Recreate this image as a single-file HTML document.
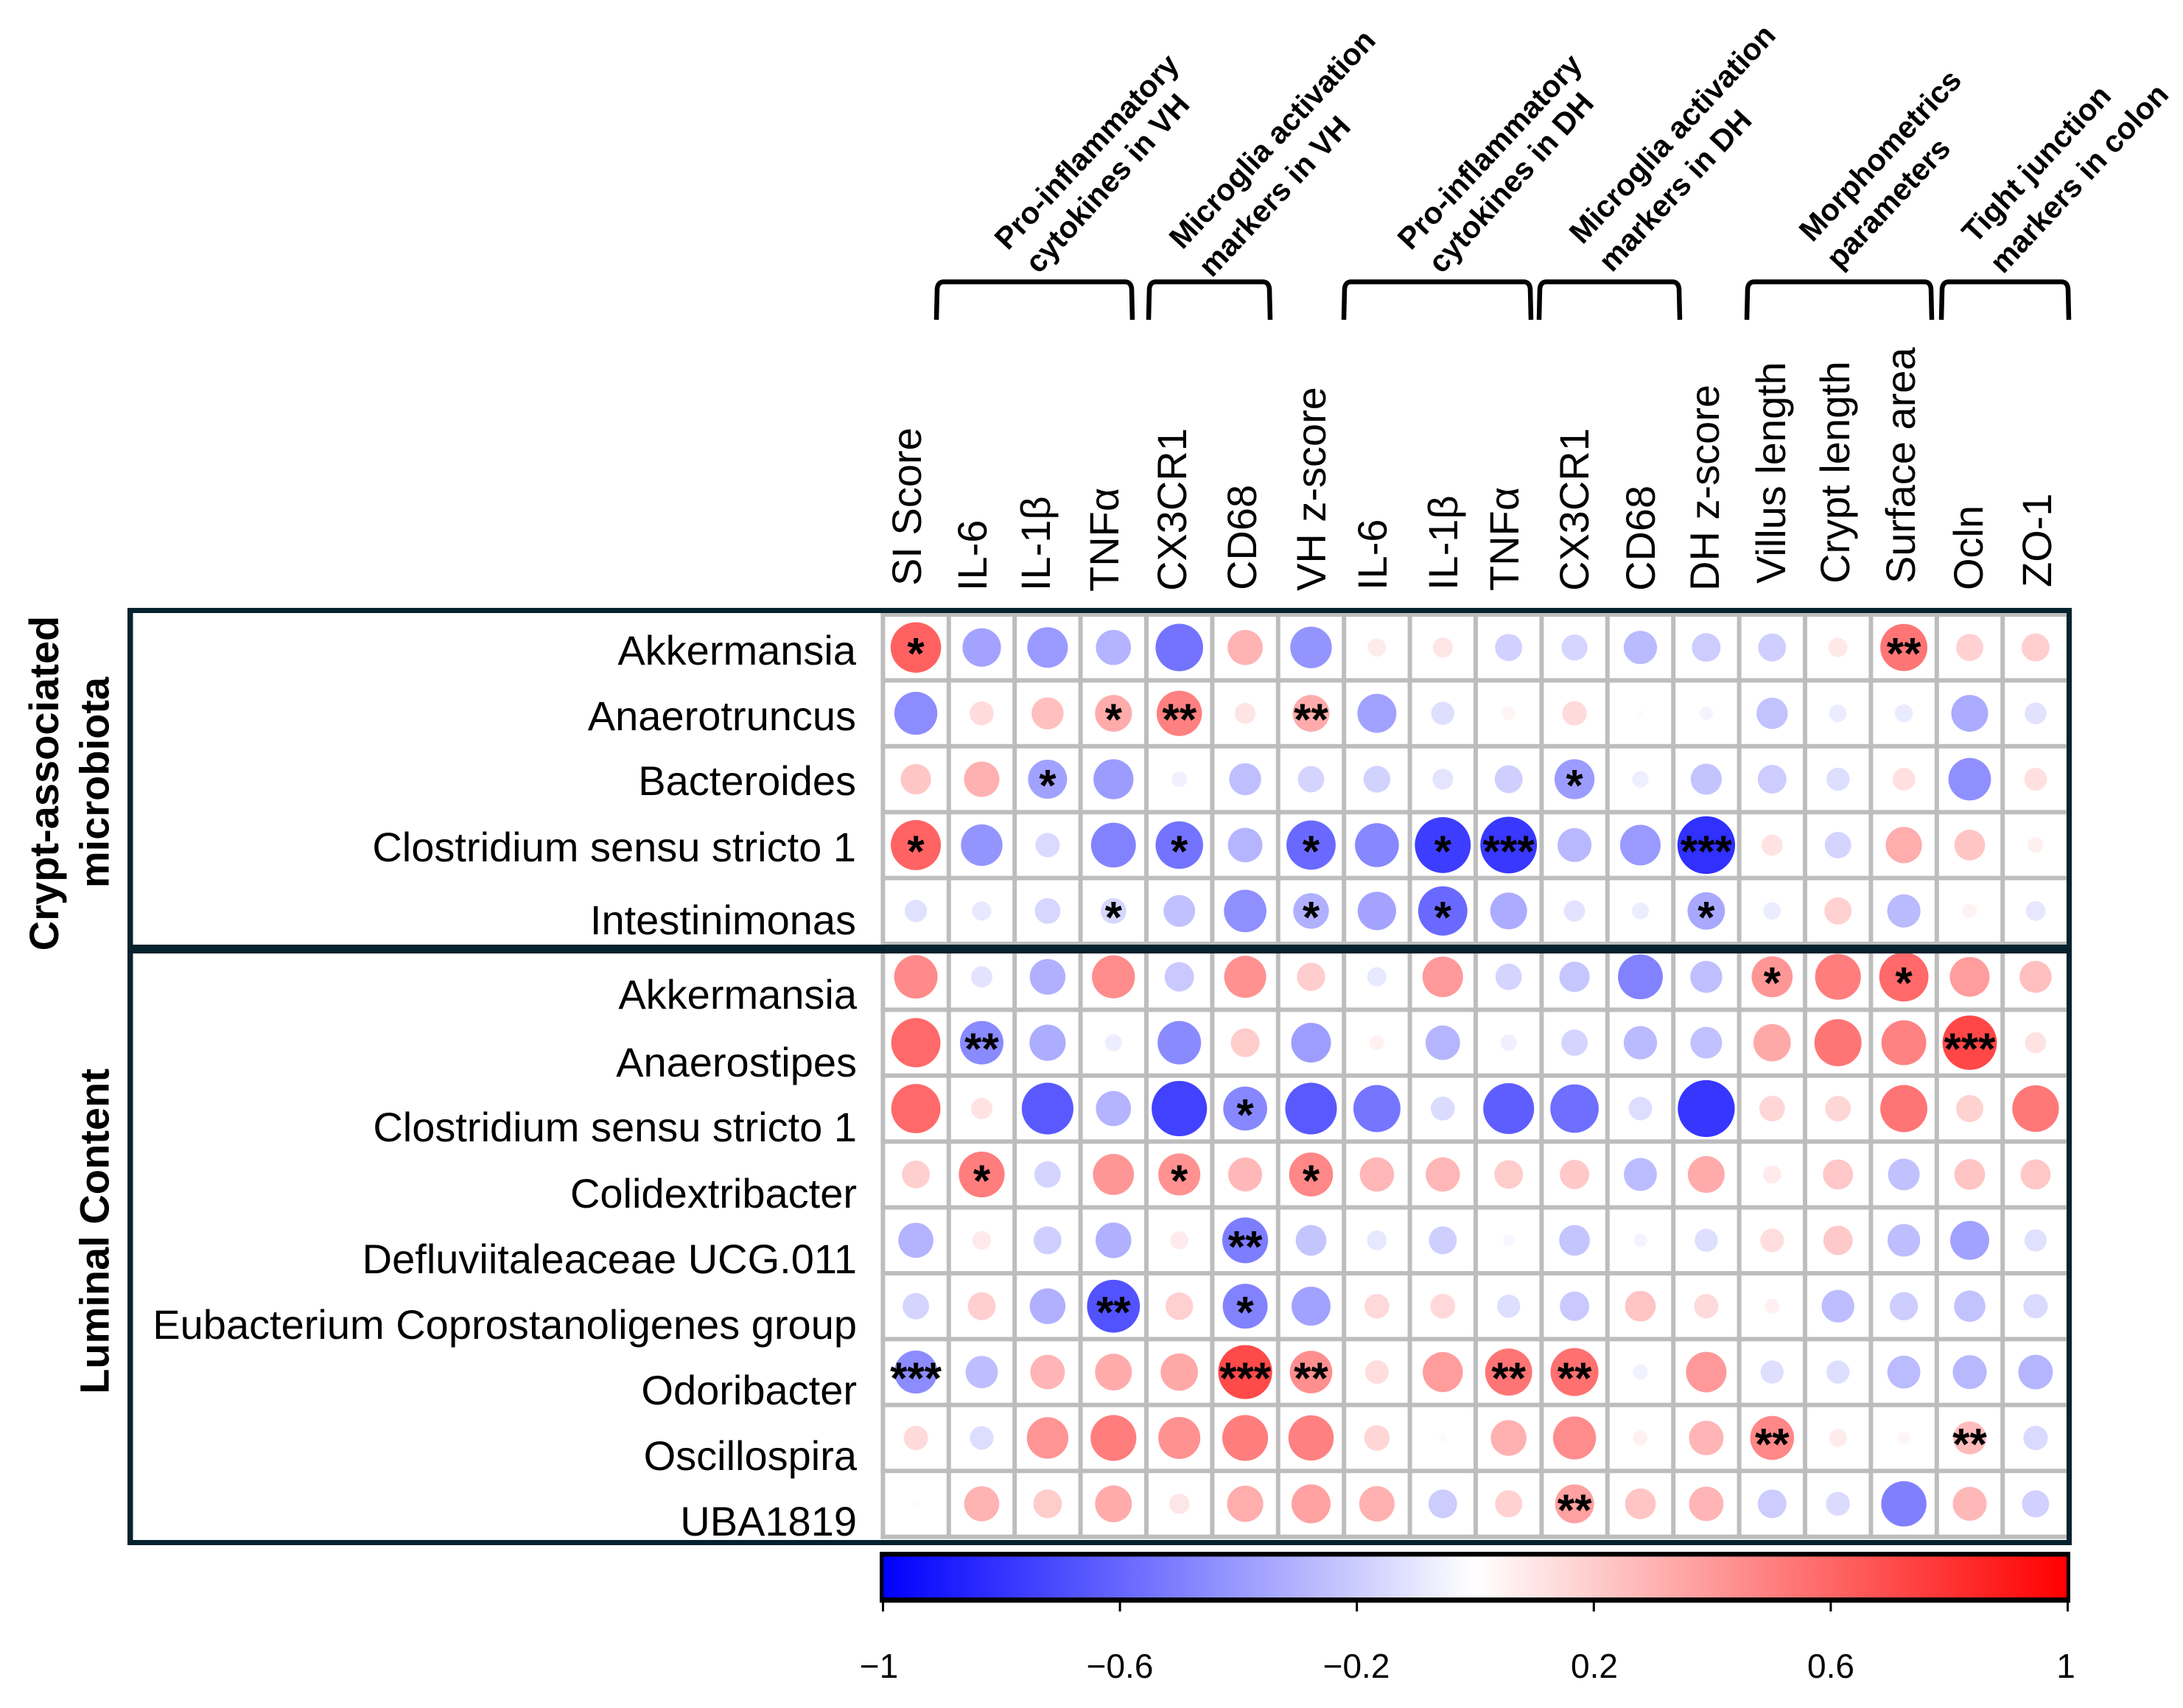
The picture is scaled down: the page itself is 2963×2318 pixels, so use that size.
<!DOCTYPE html>
<html lang="en">
<head>
<meta charset="utf-8">
<title>Microbiota correlation matrix</title>
<style>
html,body{margin:0;padding:0;background:#fff;width:2963px;height:2318px;overflow:hidden}
svg{display:block;font-family:"Liberation Sans",Arial,sans-serif}
.col{font-size:56px;fill:#000}
.row{font-size:56px;fill:#000;text-anchor:end}
.grp{font-size:41.5px;font-weight:700;fill:#000}
.side{font-size:56px;font-weight:700;fill:#000;text-anchor:middle}
.tick{font-size:46px;fill:#000;text-anchor:middle}
.br{fill:none;stroke:#000;stroke-width:6.5}
</style>
</head>
<body>
<svg id="chart" xmlns="http://www.w3.org/2000/svg" width="2963" height="2318" viewBox="0 0 2963 2318">
  <defs>
    <linearGradient id="cbGrad" x1="0" x2="1" y1="0" y2="0">
      <stop offset="0" stop-color="#0000ff"/>
      <stop offset="0.5" stop-color="#ffffff"/>
      <stop offset="1" stop-color="#ff0000"/>
    </linearGradient>
  </defs>
  <rect width="2963" height="2318" fill="#fff"/>

  <g id="grid"></g>
  <g id="marks"></g>
  <g id="stars"></g>

  <g fill="#06222f">
    <rect x="173" y="825" width="2639" height="7"/>
    <rect x="173" y="825" width="7.5" height="1272"/>
    <rect x="2805" y="825" width="7" height="1272"/>
    <rect x="173" y="2090" width="2639" height="7"/>
    <rect x="173" y="1282" width="2639" height="12"/>
  </g>

  <g transform="translate(-2 3)">
    <text class="col" transform="translate(1252 792) rotate(-90)">SI Score</text>
    <text class="col" transform="translate(1341 799) rotate(-90)">IL-6</text>
    <text class="col" transform="translate(1427 799) rotate(-90)">IL-1β</text>
    <text class="col" transform="translate(1520 800) rotate(-90)">TNFα</text>
    <text class="col" transform="translate(1612 799) rotate(-90)">CX3CR1</text>
    <text class="col" transform="translate(1707 798) rotate(-90)">CD68</text>
    <text class="col" transform="translate(1801 799) rotate(-90)">VH z-score</text>
    <text class="col" transform="translate(1884 798) rotate(-90)">IL-6</text>
    <text class="col" transform="translate(1980 798) rotate(-90)">IL-1β</text>
    <text class="col" transform="translate(2063 799) rotate(-90)">TNFα</text>
    <text class="col" transform="translate(2158 799) rotate(-90)">CX3CR1</text>
    <text class="col" transform="translate(2248 799) rotate(-90)">CD68</text>
    <text class="col" transform="translate(2335 799) rotate(-90)">DH z-score</text>
    <text class="col" transform="translate(2425 789) rotate(-90)">Villus length</text>
    <text class="col" transform="translate(2512 789) rotate(-90)">Crypt length</text>
    <text class="col" transform="translate(2601 789) rotate(-90)">Surface area</text>
    <text class="col" transform="translate(2693 798) rotate(-90)">Ocln</text>
    <text class="col" transform="translate(2786 794) rotate(-90)">ZO-1</text>
  </g>

  <g>
    <text class="row" x="1162" y="902">Akkermansia</text>
    <text class="row" x="1162" y="991">Anaerotruncus</text>
    <text class="row" x="1162" y="1079">Bacteroides</text>
    <text class="row" x="1162" y="1169">Clostridium sensu stricto 1</text>
    <text class="row" x="1162" y="1268">Intestinimonas</text>
    <text class="row" x="1163" y="1369">Akkermansia</text>
    <text class="row" x="1163" y="1461">Anaerostipes</text>
    <text class="row" x="1163" y="1549">Clostridium sensu stricto 1</text>
    <text class="row" x="1163" y="1639">Colidextribacter</text>
    <text class="row" x="1163" y="1728">Defluviitaleaceae UCG.011</text>
    <text class="row" x="1163" y="1817">Eubacterium Coprostanoligenes group</text>
    <text class="row" x="1163" y="1906">Odoribacter</text>
    <text class="row" x="1163" y="1995">Oscillospira</text>
    <text class="row" x="1163" y="2084">UBA1819</text>
  </g>

  <g>
    <text class="side" transform="translate(79 1063) rotate(-90)">Crypt-associated</text>
    <text class="side" transform="translate(147.5 1062) rotate(-90)">microbiota</text>
    <text class="side" transform="translate(147.5 1671) rotate(-90)">Luminal Content</text>
  </g>

  <g>
    <path class="br" d="M1271 434L1272 392Q1273 382.5 1281 382.5L1527 382.5Q1535 382.5 1536 392L1537 434"/>
    <path class="br" d="M1559 434L1560 392Q1561 382.5 1569 382.5L1714 382.5Q1722 382.5 1723 392L1724 434"/>
    <path class="br" d="M1824 434L1825 392Q1826 382.5 1834 382.5L2068 382.5Q2076 382.5 2077 392L2078 434"/>
    <path class="br" d="M2089 434L2090 392Q2091 382.5 2099 382.5L2270 382.5Q2278 382.5 2279 392L2280 434"/>
    <path class="br" d="M2371 434L2372 392Q2373 382.5 2381 382.5L2612 382.5Q2620 382.5 2621 392L2622 434"/>
    <path class="br" d="M2635 434L2636 392Q2637 382.5 2645 382.5L2798 382.5Q2806 382.5 2807 392L2808 434"/>
  </g>

  <g>
    <text class="grp" transform="translate(1368 341) rotate(-47)">Pro-inflammatory</text>
    <text class="grp" transform="translate(1410 373) rotate(-48)">cytokines in VH</text>
    <text class="grp" transform="translate(1605 340) rotate(-47)">Microglia activation</text>
    <text class="grp" transform="translate(1645 378) rotate(-47)">markers in VH</text>
    <text class="grp" transform="translate(1915 341) rotate(-47)">Pro-inflammatory</text>
    <text class="grp" transform="translate(1957 373) rotate(-48)">cytokines in DH</text>
    <text class="grp" transform="translate(2148 333) rotate(-47)">Microglia activation</text>
    <text class="grp" transform="translate(2188 371) rotate(-47)">markers in DH</text>
    <text class="grp" transform="translate(2460 330) rotate(-47)">Morphometrics</text>
    <text class="grp" transform="translate(2497 367) rotate(-47)">parameters</text>
    <text class="grp" transform="translate(2681 332) rotate(-47)">Tight junction</text>
    <text class="grp" transform="translate(2719 373) rotate(-47)">markers in colon</text>
  </g>

  <g>
    <rect x="1194" y="2106" width="1616" height="69" fill="#000"/>
    <rect x="1199" y="2112.5" width="1606" height="55.5" fill="url(#cbGrad)"/>
    <g id="cbTicks"></g>
    <text class="tick" x="1193" y="2277">−1</text>
    <text class="tick" x="1520" y="2277">−0.6</text>
    <text class="tick" x="1841" y="2277">−0.2</text>
    <text class="tick" x="2164" y="2277">0.2</text>
    <text class="tick" x="2485" y="2277">0.6</text>
    <text class="tick" x="2804" y="2277">1</text>
  </g>
</svg>

<script>
// Column and row categories
const columnNames = ["si-score","il6-vh","il1b-vh","tnfa-vh","cx3cr1-vh","cd68-vh","vh-z-score","il6-dh","il1b-dh","tnfa-dh","cx3cr1-dh","cd68-dh","dh-z-score","villus-length","crypt-length","surface-area","ocln","zo1"];
const rowNames = ["crypt-akkermansia","crypt-anaerotruncus","crypt-bacteroides","crypt-clostridium","crypt-intestinimonas","lumen-akkermansia","lumen-anaerostipes","lumen-clostridium","lumen-colidextribacter","lumen-defluviitaleaceae","lumen-eubacterium","lumen-odoribacter","lumen-oscillospira","lumen-uba1819"];
const colorbarTicks = [-1,-0.6,-0.2,0.2,0.6,1];

// Correlation values
const cryptAkkermansia = [0.62,-0.36,-0.40,-0.30,-0.55,0.30,-0.42,0.08,0.10,-0.18,-0.165,-0.27,-0.20,-0.19,0.09,0.54,0.18,0.19];
const cryptAnaerotruncus = [-0.45,0.14,0.25,0.33,0.50,0.105,0.33,-0.37,-0.13,0.045,0.145,-0.01,-0.045,-0.24,-0.075,-0.08,-0.33,-0.115];
const cryptBacteroides = [0.225,0.305,-0.37,-0.39,-0.06,-0.25,-0.17,-0.175,-0.105,-0.19,-0.39,-0.065,-0.235,-0.20,-0.13,0.125,-0.44,0.125];
const cryptClostridium = [0.61,-0.42,-0.145,-0.49,-0.55,-0.29,-0.59,-0.47,-0.76,-0.78,-0.28,-0.40,-0.81,0.11,-0.17,0.32,0.23,0.06];
const cryptIntestinimonas = [-0.12,-0.09,-0.16,-0.16,-0.245,-0.44,-0.31,-0.36,-0.59,-0.33,-0.11,-0.07,-0.34,-0.075,0.18,-0.27,0.05,-0.095];
const lumenAkkermansia = [0.46,-0.11,-0.31,0.45,-0.21,0.43,0.195,-0.09,0.40,-0.17,-0.225,-0.49,-0.25,0.41,0.51,0.59,0.385,0.25];
const lumenAnaerostipes = [0.59,-0.46,-0.32,-0.07,-0.46,0.20,-0.385,0.053,-0.29,-0.064,-0.17,-0.27,-0.245,0.34,0.54,0.49,0.72,0.11];
const lumenClostridium = [0.59,0.11,-0.65,-0.30,-0.745,-0.47,-0.65,-0.54,-0.14,-0.63,-0.57,-0.135,-0.79,0.16,0.16,0.54,0.18,0.53];
const lumenColidextribacter = [0.19,0.51,-0.17,0.41,0.43,0.28,0.47,0.285,0.285,0.20,0.21,-0.265,0.33,0.08,0.22,-0.245,0.23,0.22];
const lumenDefluviitaleaceae = [-0.30,0.085,-0.19,-0.31,0.08,-0.51,-0.23,-0.095,-0.19,-0.03,-0.23,-0.045,-0.13,0.135,0.21,-0.26,-0.37,-0.12];
const lumenEubacterium = [-0.17,0.19,-0.31,-0.68,0.185,-0.49,-0.37,0.15,0.15,-0.13,-0.21,0.23,0.145,0.055,-0.26,-0.195,-0.24,-0.145];
const lumenOdoribacter = [-0.45,-0.255,0.29,0.33,0.34,0.71,0.44,0.135,0.39,0.54,0.56,-0.055,0.40,-0.13,-0.13,-0.265,-0.28,-0.29];
const lumenOscillospira = [0.145,-0.135,0.42,0.51,0.43,0.51,0.50,0.16,-0.017,0.31,0.45,0.053,0.29,0.47,0.077,0.04,0.265,-0.145];
const lumenUba1819 = [0.017,0.30,0.20,0.33,0.10,0.32,0.37,0.305,-0.20,0.18,0.37,0.23,0.29,-0.20,-0.14,-0.50,0.28,-0.18];

// Number of significance asterisks per cell
const starsCryptAkkermansia = [1,0,0,0,0,0,0,0,0,0,0,0,0,0,0,2,0,0];
const starsCryptAnaerotruncus = [0,0,0,1,2,0,2,0,0,0,0,0,0,0,0,0,0,0];
const starsCryptBacteroides = [0,0,1,0,0,0,0,0,0,0,1,0,0,0,0,0,0,0];
const starsCryptClostridium = [1,0,0,0,1,0,1,0,1,3,0,0,3,0,0,0,0,0];
const starsCryptIntestinimonas = [0,0,0,1,0,0,1,0,1,0,0,0,1,0,0,0,0,0];
const starsLumenAkkermansia = [0,0,0,0,0,0,0,0,0,0,0,0,0,1,0,1,0,0];
const starsLumenAnaerostipes = [0,2,0,0,0,0,0,0,0,0,0,0,0,0,0,0,3,0];
const starsLumenClostridium = [0,0,0,0,0,1,0,0,0,0,0,0,0,0,0,0,0,0];
const starsLumenColidextribacter = [0,1,0,0,1,0,1,0,0,0,0,0,0,0,0,0,0,0];
const starsLumenDefluviitaleaceae = [0,0,0,0,0,2,0,0,0,0,0,0,0,0,0,0,0,0];
const starsLumenEubacterium = [0,0,0,2,0,1,0,0,0,0,0,0,0,0,0,0,0,0];
const starsLumenOdoribacter = [3,0,0,0,0,3,2,0,0,2,2,0,0,0,0,0,0,0];
const starsLumenOscillospira = [0,0,0,0,0,0,0,0,0,0,0,0,0,2,0,0,2,0];
const starsLumenUba1819 = [0,0,0,0,0,0,0,0,0,0,2,0,0,0,0,0,0,0];

const valueRows = [cryptAkkermansia,cryptAnaerotruncus,cryptBacteroides,cryptClostridium,cryptIntestinimonas,lumenAkkermansia,lumenAnaerostipes,lumenClostridium,lumenColidextribacter,lumenDefluviitaleaceae,lumenEubacterium,lumenOdoribacter,lumenOscillospira,lumenUba1819];
const starRows = [starsCryptAkkermansia,starsCryptAnaerotruncus,starsCryptBacteroides,starsCryptClostridium,starsCryptIntestinimonas,starsLumenAkkermansia,starsLumenAnaerostipes,starsLumenClostridium,starsLumenColidextribacter,starsLumenDefluviitaleaceae,starsLumenEubacterium,starsLumenOdoribacter,starsLumenOscillospira,starsLumenUba1819];

// Axis functions
const NS = "http://www.w3.org/2000/svg";
const CELL = 89.4, X0 = 1198.4, Y0 = 834;
function xCol(c){ return X0 + CELL * (c + 0.5); }
function yRow(r){ return Y0 + CELL * (r + 0.5); }
function diameter(v){ return 87 * Math.sqrt(Math.abs(v)); }
function fillFor(v){
  const t = Math.min(1, Math.abs(v));
  const k = Math.round(255 * (1 - t));
  return v >= 0 ? "rgb(255," + k + "," + k + ")" : "rgb(" + k + "," + k + ",255)";
}
function xColorbar(v){ return 1198.5 + (v + 1) / 2 * 1608; }

const gridGroup = document.getElementById("grid");
const marksGroup = document.getElementById("marks");
const starsGroup = document.getElementById("stars");
const ticksGroup = document.getElementById("cbTicks");

// Grid lines
for (let c = 0; c <= columnNames.length; c++) {
  const line = document.createElementNS(NS, "line");
  line.setAttribute("x1", X0 + CELL * c);
  line.setAttribute("x2", X0 + CELL * c);
  line.setAttribute("y1", Y0 - 3);
  line.setAttribute("y2", Y0 + CELL * rowNames.length + 3);
  line.setAttribute("stroke", "#bdbdbd");
  line.setAttribute("stroke-width", "6");
  
  
  gridGroup.appendChild(line);
}
for (let r = 0; r <= rowNames.length; r++) {
  const line = document.createElementNS(NS, "line");
  line.setAttribute("x1", X0 - 3);
  line.setAttribute("x2", X0 + CELL * columnNames.length);
  line.setAttribute("y1", Y0 + CELL * r);
  line.setAttribute("y2", Y0 + CELL * r);
  line.setAttribute("stroke", "#bdbdbd");
  line.setAttribute("stroke-width", "6");
  
  
  gridGroup.appendChild(line);
}

// Circles and significance stars
valueRows.forEach(function (row, r) {
  row.forEach(function (v, c) {
    const circle = document.createElementNS(NS, "circle");
    circle.setAttribute("cx", xCol(c));
    circle.setAttribute("cy", yRow(r));
    circle.setAttribute("r", diameter(v) / 2);
    circle.setAttribute("fill", fillFor(v));
    
    
    marksGroup.appendChild(circle);

    const count = starRows[r][c];
    if (count > 0) {
      const star = document.createElementNS(NS, "text");
      star.setAttribute("x", xCol(c));
      star.setAttribute("y", yRow(r) + 29);
      star.setAttribute("text-anchor", "middle");
      star.setAttribute("font-size", "60");
      star.setAttribute("font-weight", "700");
      star.setAttribute("fill", "#000");
      star.textContent = "*".repeat(count);
      
      
      starsGroup.appendChild(star);
    }
  });
});

// Colorbar ticks
colorbarTicks.forEach(function (t) {
  const tick = document.createElementNS(NS, "line");
  tick.setAttribute("x1", xColorbar(t));
  tick.setAttribute("x2", xColorbar(t));
  tick.setAttribute("y1", 2175);
  tick.setAttribute("y2", 2187);
  tick.setAttribute("stroke", "#000");
  tick.setAttribute("stroke-width", "3");
  
  
  ticksGroup.appendChild(tick);
});
</script>
</body>
</html>
